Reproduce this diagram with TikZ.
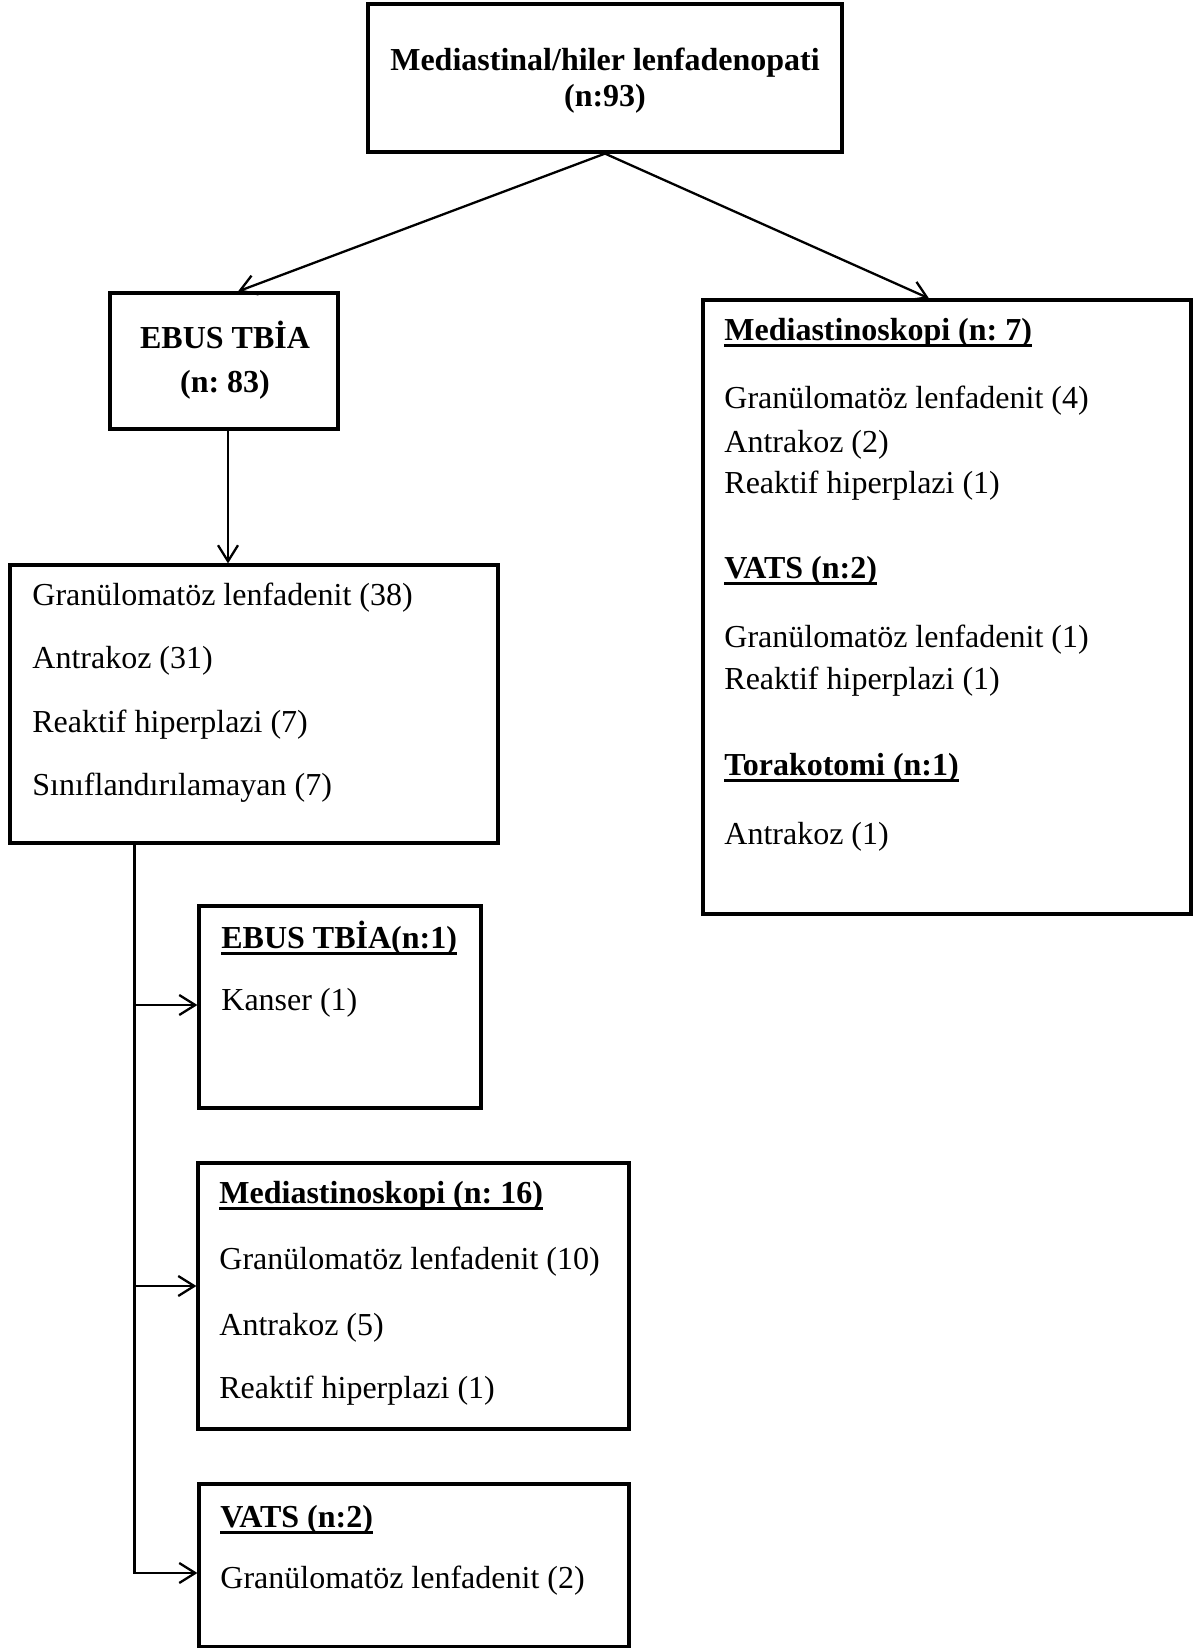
\documentclass[tikz,border=0pt]{standalone}
\usepackage{fontspec}
\setmainfont{Liberation Serif}
\usetikzlibrary{arrows.meta,calc}
\newcommand\myul[1]{\setbox0\hbox{#1}\rlap{\rule[-3.7pt]{\wd0}{1.5pt}}\box0}
\frenchspacing
\begin{document}
\frenchspacing
\begin{tikzpicture}[x=0.5pt,y=-0.5pt,
  box/.style={draw, line width=1.6pt, fill=white, inner sep=0pt},
  txt/.style={anchor=base west, inner sep=0pt, font=\fontsize{16}{19}\selectfont},
  hdr/.style={anchor=base west, inner sep=0pt, font=\fontsize{16}{19}\selectfont\bfseries},
  ctxt/.style={anchor=base, inner sep=0pt, font=\fontsize{16}{19}\selectfont\bfseries},
  conn/.style={line width=1.15pt},
  arr/.style={conn, -{Straight Barb[length=8pt,width=10pt]}}]
\useasboundingbox[fill=white] (0,0) rectangle (1197,1648);

% top box
\node[box, minimum width=237pt, minimum height=74pt] (top) at (605,78) {};
\node[ctxt] (t1) at (605,71) {Mediastinal/hiler lenfadenopati};
\node[ctxt] (t2) at (605,107) {(n:93)};

% EBUS box
\node[box, minimum width=114pt, minimum height=68pt] (ebus) at (224,361) {};
\node[ctxt] (e1) at (225,348) {EBUS TBİA};
\node[ctxt] (e2) at (225,392) {(n: 83)};

% right box
\node[box, minimum width=244pt, minimum height=307pt] (right) at (947,607) {};
\node[hdr] (r1) at (724,340) {\myul{Mediastinoskopi (n: 7)}};
\node[txt] (r2) at (724,408) {Granülomatöz lenfadenit (4)};
\node[txt] (r3) at (724,452) {Antrakoz (2)};
\node[txt] (r4) at (724,493) {Reaktif hiperplazi (1)};
\node[hdr] (r5) at (724,578) {\myul{VATS (n:2)}};
\node[txt] (r6) at (724,647) {Granülomatöz lenfadenit (1)};
\node[txt] (r7) at (724,689) {Reaktif hiperplazi (1)};
\node[hdr] (r8) at (724,775) {\myul{Torakotomi (n:1)}};
\node[txt] (r9) at (724,844) {Antrakoz (1)};

% results box
\node[box, minimum width=244pt, minimum height=139pt] (res) at (254,704) {};
\node[txt] (s1) at (32,605) {Granülomatöz lenfadenit (38)};
\node[txt] (s2) at (32,668) {Antrakoz (31)};
\node[txt] (s3) at (32,732) {Reaktif hiperplazi (7)};
\node[txt] (s4) at (32,795) {Sınıflandırılamayan (7)};

% b1
\node[box, minimum width=141pt, minimum height=101pt] (b1) at (340,1007) {};
\node[hdr] (b1h) at (221,948) {\myul{EBUS TBİA(n:1)}};
\node[txt] (b1a) at (221,1010) {Kanser (1)};

% b2
\node[box, minimum width=215.5pt, minimum height=133pt] (b2) at (413.5,1296) {};
\node[hdr] (b2h) at (219,1203) {\myul{Mediastinoskopi (n: 16)}};
\node[txt] (b2a) at (219,1269) {Granülomatöz lenfadenit (10)};
\node[txt] (b2b) at (219,1335) {Antrakoz (5)};
\node[txt] (b2c) at (219,1398) {Reaktif hiperplazi (1)};

% b3
\node[box, minimum width=215pt, minimum height=81.5pt] (b3) at (414,1565.5) {};
\node[hdr] (b3h) at (220,1527) {\myul{VATS (n:2)}};
\node[txt] (b3a) at (220,1588) {Granülomatöz lenfadenit (2)};

% connectors
\draw[arr] (top.south) -- ([xshift=7pt]ebus.north);
\draw[arr] (top.south) -- ([xshift=-9pt]right.north);
\draw[arr] ([xshift=2pt]ebus.south) -- ([xshift=2pt]ebus.south |- res.north);
\coordinate (j0) at ([xshift=63pt]res.south west);
\coordinate (a1) at ([yshift=1pt]b1.west);
\coordinate (a2) at ([yshift=5pt]b2.west);
\coordinate (a3) at ([yshift=-3.75pt]b3.west);
\draw[arr] (j0) |- (a3);
\draw[arr] (j0 |- a1) -- (a1);
\draw[arr] (j0 |- a2) -- (a2);
\end{tikzpicture}
\end{document}
